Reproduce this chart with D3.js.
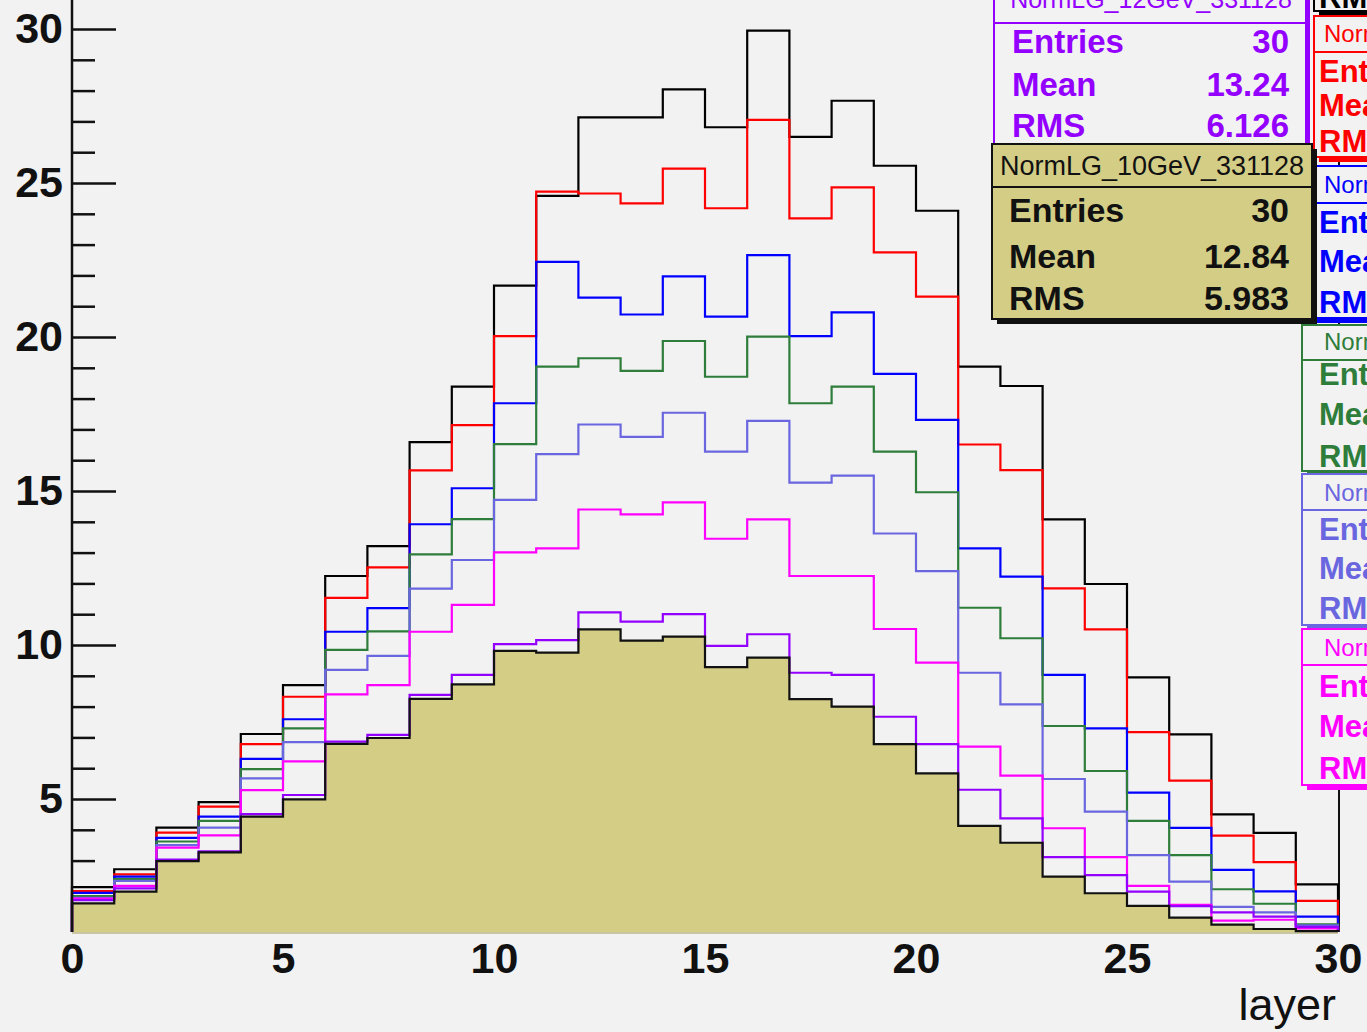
<!DOCTYPE html>
<html>
<head>
<meta charset="utf-8">
<script src="https://cdn.jsdelivr.net/npm/d3@7"></script>
<style>
  body { margin: 0; background: #f2f2f2; }
  svg { display: block; }
</style>
</head>
<body>
<div id="chart"></div>
<script>
// ---- data (bin contents per layer, 30 bins 0..30) ----
const xTicks = [0, 5, 10, 15, 20, 25, 30];
const yTicks = [5, 10, 15, 20, 25, 30];

const blackVals   = [2.14, 2.72, 4.07, 4.90, 7.11, 8.70, 12.24, 13.21, 16.59, 18.39, 21.67, 24.58, 27.13, 27.13, 28.04, 26.81, 29.95, 26.50, 27.67, 25.56, 24.10, 19.04, 18.41, 14.08, 11.98, 8.95, 7.10, 4.50, 3.90, 2.23];
const redVals     = [2.01, 2.55, 3.91, 4.75, 6.78, 8.32, 11.53, 12.52, 15.67, 17.14, 20.03, 24.72, 24.66, 24.34, 25.47, 24.18, 27.05, 23.85, 24.86, 22.75, 21.31, 16.51, 15.68, 11.84, 10.51, 7.17, 5.60, 3.81, 2.95, 1.69];
const blueVals    = [1.95, 2.48, 3.74, 4.43, 6.30, 7.59, 10.43, 11.20, 13.92, 15.09, 17.85, 22.44, 21.28, 20.73, 21.97, 20.66, 22.66, 20.03, 20.80, 18.80, 17.31, 13.14, 12.22, 9.03, 7.29, 5.21, 4.06, 2.70, 2.00, 1.18];
const greenVals   = [1.85, 2.40, 3.62, 4.29, 5.97, 7.29, 9.84, 10.44, 12.94, 14.09, 16.52, 19.04, 19.31, 18.90, 19.87, 18.71, 20.01, 17.85, 18.39, 16.28, 14.96, 11.21, 10.22, 7.37, 5.91, 4.29, 3.18, 2.07, 1.60, 0.93];
const slateVals   = [1.79, 2.34, 3.50, 4.07, 5.67, 6.85, 9.19, 9.65, 11.83, 12.76, 14.71, 16.20, 17.16, 16.76, 17.54, 16.28, 17.28, 15.27, 15.50, 13.62, 12.40, 9.10, 8.07, 5.65, 4.59, 3.18, 2.32, 1.50, 1.32, 0.90];
const magentaVals = [1.77, 2.18, 3.42, 3.82, 5.29, 6.22, 8.40, 8.70, 10.43, 11.30, 13.01, 13.14, 14.40, 14.24, 14.63, 13.45, 14.08, 12.24, 12.24, 10.52, 9.43, 6.70, 5.76, 4.05, 3.11, 2.18, 1.56, 1.05, 1.08, 0.80];
const violetVals  = [1.72, 2.10, 3.03, 3.30, 4.51, 5.13, 6.86, 7.08, 8.38, 9.03, 10.03, 10.16, 11.06, 10.76, 11.00, 9.97, 10.35, 9.10, 9.03, 7.67, 6.78, 5.30, 4.37, 3.11, 2.53, 1.99, 1.52, 1.32, 1.18, 0.85];
const khakiVals   = [1.61, 1.99, 2.98, 3.27, 4.43, 4.99, 6.79, 6.98, 8.25, 8.72, 9.81, 9.75, 10.51, 10.14, 10.27, 9.28, 9.59, 8.24, 8.00, 6.78, 5.83, 4.13, 3.58, 2.48, 1.94, 1.53, 1.15, 0.92, 0.78, 0.71];

const statLabels = ["Entries", "Mean", "RMS"];
const stats12GeV = ["30", "13.24", "6.126"];
const stats10GeV = ["30", "12.84", "5.983"];

const W = 1367, H = 1032;
const bg = "#f2f2f2";
const khaki = "#d3cd86";
const colors = {
  black: "#000000", red: "#ff0000", blue: "#0000ff", green: "#2e7d3a",
  slate: "#6a66e0", magenta: "#ff00ff", violet: "#9400ff"
};

const svg = d3.select("#chart").append("svg")
  .attr("width", W).attr("height", H);

svg.append("rect").attr("width", W).attr("height", H).attr("fill", bg);

// scales
const yMin = 0.682, yMax = 31.6;
const x = d3.scaleLinear().domain([0, 30]).range([72, 1338]);
const y = d3.scaleLinear().domain([yMin, yMax]).range([932, 932 - (yMax - yMin) * 30.8]);

// bottom axis line (sits under the filled histogram)
svg.append("line")
  .attr("x1", x(0)).attr("x2", x(30)).attr("y1", 933).attr("y2", 933)
  .attr("stroke", "#c9c6a4").attr("stroke-width", 2);

// right frame border
svg.append("line")
  .attr("x1", x(30) + 1).attr("x2", x(30) + 1).attr("y1", y(yMin)).attr("y2", y(yMax))
  .attr("stroke", "#111").attr("stroke-width", 2);

// y axis: major + minor ticks pointing inside
const minorTicks = d3.range(1, 32).filter(v => v % 5 !== 0);
const yMajor = svg.append("g").attr("transform", "translate(72,0)")
  .call(d3.axisRight(y).tickValues(yTicks).tickSize(44).tickFormat(""));
const yMinor = svg.append("g").attr("transform", "translate(72,0)")
  .call(d3.axisRight(y).tickValues(minorTicks).tickSize(23).tickFormat(""));
[yMajor, yMinor].forEach(g => {
  g.select(".domain").remove();
  g.selectAll(".tick line").attr("stroke", "#111").attr("stroke-width", 2.5);
});

// histograms as step lines
function steps(vals) {
  const pts = [{ x: 0, v: yMin }];
  vals.forEach((v, i) => pts.push({ x: i, v: v }));
  pts.push({ x: 30, v: vals[vals.length - 1] });
  pts.push({ x: 30, v: yMin });
  return pts;
}
const stepLine = d3.line().x(d => x(d.x)).y(d => y(d.v)).curve(d3.curveStepAfter);
const stepArea = d3.area().x(d => x(d.x)).y0(y(yMin)).y1(d => y(d.v)).curve(d3.curveStepAfter);

const hg = svg.append("g");
hg.append("path").datum(steps(khakiVals)).attr("d", stepArea).attr("fill", khaki);

const series = [
  { vals: blackVals, color: colors.black },
  { vals: redVals, color: colors.red },
  { vals: blueVals, color: colors.blue },
  { vals: greenVals, color: colors.green },
  { vals: slateVals, color: colors.slate },
  { vals: magentaVals, color: colors.magenta },
  { vals: violetVals, color: colors.violet },
  { vals: khakiVals, color: "#111" }
];
hg.selectAll("path.h").data(series).join("path")
  .attr("class", "h")
  .attr("d", d => stepLine(steps(d.vals)))
  .attr("fill", "none")
  .attr("stroke", d => d.color)
  .attr("stroke-width", 2.2);

// left axis line
svg.append("line")
  .attr("x1", 72).attr("x2", 72).attr("y1", y(yMin)).attr("y2", y(yMax))
  .attr("stroke", "#111").attr("stroke-width", 2.5);

// tick labels
const font = "'Liberation Sans', Arial, Helvetica, sans-serif";
const yLab = svg.append("g").attr("transform", "translate(72,0)")
  .call(d3.axisLeft(y).tickValues(yTicks).tickSize(0).tickPadding(9));
const xLab = svg.append("g").attr("transform", "translate(0,932)")
  .call(d3.axisBottom(x).tickValues(xTicks).tickSize(0).tickPadding(10));
[yLab, xLab].forEach(g => {
  g.select(".domain").remove();
  g.selectAll("text").attr("font-family", font).attr("font-weight", "bold")
    .attr("font-size", 43).attr("fill", "#111");
});

svg.append("text")
  .attr("x", 1336).attr("y", 1020).attr("text-anchor", "end")
  .attr("font-family", font).attr("font-size", 45).attr("fill", "#111")
  .text("layer");

// stat boxes
function statBox(b) {
  const g = svg.append("g");
  g.append("rect")
    .attr("x", b.x0 + b.shadow).attr("y", b.y0 + b.shadow)
    .attr("width", b.x1 - b.x0).attr("height", b.y1 - b.y0)
    .attr("fill", b.shadowColor || b.color);
  g.append("rect")
    .attr("x", b.x0).attr("y", b.y0)
    .attr("width", b.x1 - b.x0).attr("height", b.y1 - b.y0)
    .attr("fill", b.fill).attr("stroke", b.color).attr("stroke-width", 2);
  if (b.sep != null) {
    g.append("line").attr("x1", b.x0).attr("x2", b.x1)
      .attr("y1", b.sep).attr("y2", b.sep)
      .attr("stroke", b.color).attr("stroke-width", 2);
  }
  if (b.title) {
    g.append("text")
      .attr("x", b.titleX).attr("y", b.titleY)
      .attr("text-anchor", b.titleAnchor)
      .attr("font-family", font).attr("font-size", b.titleSize)
      .attr("fill", b.textColor || b.color)
      .text(b.title);
  }
  statLabels.forEach((lab, i) => {
    g.append("text")
      .attr("x", b.labelX).attr("y", b.rowY[i])
      .attr("font-family", font).attr("font-weight", "bold")
      .attr("font-size", b.rowSize).attr("fill", b.textColor || b.color)
      .text(lab);
    if (b.values) {
      g.append("text")
        .attr("x", b.valueX).attr("y", b.rowY[i]).attr("text-anchor", "end")
        .attr("font-family", font).attr("font-weight", "bold")
        .attr("font-size", b.rowSize).attr("fill", b.textColor || b.color)
        .text(b.values[i]);
    }
  });
}

const rightCol = [
  { color: colors.black, title: "NormLG_50GeV_331128", x0: 1314, y0: -150, y1: 11, sep: -110, titleY: -120, rowY: [-80, -38, 8] },
  { color: colors.red, title: "NormLG_40GeV_331128", x0: 1314, y0: 16, y1: 157, sep: 52, titleY: 42, rowY: [82, 116, 152] },
  { color: colors.blue, title: "NormLG_30GeV_331128", x0: 1302, y0: 166, y1: 318, sep: 203, titleY: 193, rowY: [233, 272, 313] },
  { color: colors.green, title: "NormLG_25GeV_331128", x0: 1302, y0: 325, y1: 471, sep: 360, titleY: 350, rowY: [385, 425, 467] },
  { color: colors.slate, title: "NormLG_20GeV_331128", x0: 1302, y0: 474, y1: 625, sep: 510, titleY: 501, rowY: [540, 579, 619] },
  { color: colors.magenta, title: "NormLG_15GeV_331128", x0: 1302, y0: 629, y1: 785, sep: 665, titleY: 656, rowY: [697, 737, 779] }
];
rightCol.forEach(b => statBox(Object.assign({
  x1: 1500, fill: bg, shadow: 5, titleX: 1324, titleAnchor: "start", titleSize: 24,
  labelX: 1319, rowSize: 31, values: null
}, b)));

statBox({
  color: colors.violet, fill: bg, shadow: 4,
  x0: 994, x1: 1306, y0: -40, y1: 165, sep: 23,
  title: "NormLG_12GeV_331128", titleX: 1151, titleY: 8, titleAnchor: "middle", titleSize: 25,
  labelX: 1012, valueX: 1289, rowY: [53, 96, 137], rowSize: 33, values: stats12GeV
});

statBox({
  color: "#111", fill: khaki, shadow: 5, shadowColor: "#111",
  x0: 992, x1: 1312, y0: 144, y1: 319, sep: 187,
  title: "NormLG_10GeV_331128", titleX: 1152, titleY: 175, titleAnchor: "middle", titleSize: 27,
  labelX: 1009, valueX: 1289, rowY: [222, 268, 310], rowSize: 34, values: stats10GeV
});
</script>
</body>
</html>
